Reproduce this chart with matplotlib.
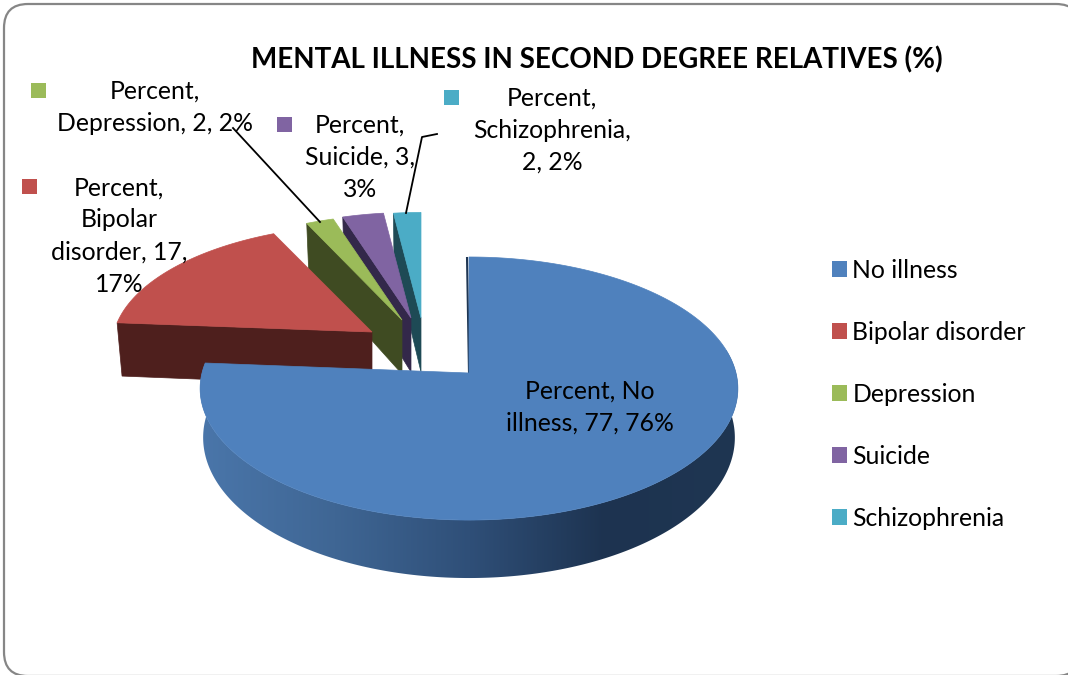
import matplotlib
matplotlib.use('Agg')
import matplotlib.pyplot as plt
from matplotlib.patches import FancyBboxPatch, Patch, Polygon, Rectangle
from matplotlib.colors import LinearSegmentedColormap
import numpy as np

plt.rcParams['font.family'] = ['Lato', 'DejaVu Sans']

title = 'MENTAL ILLNESS IN SECOND DEGREE RELATIVES (%)'
categories = ['No illness', 'Bipolar disorder', 'Depression', 'Suicide', 'Schizophrenia']
values = [77, 17, 2, 3, 2]
percents = [76, 17, 2, 3, 2]
label_texts = [
    'Percent, No\nillness, 77, 76%',
    'Percent,\nBipolar\ndisorder, 17,\n17%',
    'Percent,\nDepression, 2, 2%',
    'Percent,\nSuicide, 3,\n3%',
    'Percent,\nSchizophrenia,\n2, 2%',
]

# styles and layout, all in pixels of the figure
top_colors = ['#4f81bd', '#c0504d', '#9bbb59', '#8064a2', '#4bacc6']
wall_colors = ['#2f4f78', '#4e1f1d', '#3f4b22', '#33284a', '#1e4a55']
explode = [(0, 0), (-97, -41), (-67, -53), (-58, -55), (-48, -55)]
# rx, ry of the top face and rx, ry, drop of the bottom face
shapes = [(267, 129.7, 264, 138.5, 48), (258, 120, 253, 129, 54), (250, 118, 245, 127, 54),
          (248, 118, 243, 127, 54), (248, 118, 243, 127, 54)]
label_pos = [(590, 407), (119, 236), (155, 107), (360, 157), (552, 130)]
key_pos = [None, (22, 179), (31, 83), (277, 117), (444, 90)]
FS = 24.8 * 0.72
CX, CY = 469, 373
K = 0.118


def project(ang, cx, cy, rx, ry):
    u, v = np.sin(ang), np.cos(ang)
    s = 1 / (1 + K * v)
    return cx + rx * u * s, cy - ry * v * s


fig = plt.figure(figsize=(10.68, 6.75), dpi=100)
ax = fig.add_axes([0, 0, 1, 1])
ax.axis('off')

ax.add_patch(FancyBboxPatch((4, 4), 1076, 672, boxstyle='round,pad=0,rounding_size=24',
                            fc='white', ec='#868686', lw=1.6))

edges = np.radians(np.cumsum([0] + values) / sum(values) * 360)
shade = LinearSegmentedColormap.from_list('wall', ['#4a76aa', '#3f6694', '#2f4f78', '#1d3350', '#1f3652'])

# small slices first, the big one goes over them
for i in [4, 3, 2, 1, 0]:
    a0, a1 = edges[i], edges[i + 1]
    cx, cy = CX + explode[i][0], CY + explode[i][1]
    rx, ry, rx2, ry2, depth = shapes[i]
    angs = np.linspace(a0, a1, 300)
    tx, ty = project(angs, cx, cy, rx, ry)
    if i == 0:
        bx, by = project(angs, cx, cy + depth, rx2, ry2)
        wall = Polygon(list(zip(tx, ty)) + list(zip(bx[::-1], by[::-1])), fc='none', ec='none')
        ax.add_patch(wall)
        im = ax.imshow(np.linspace(0, 1, 256).reshape(1, -1), cmap=shade, aspect='auto',
                       extent=(200, 740, 600, 350), zorder=1)
        im.set_clip_path(wall)
        ax.plot([tx[0] - 2, cx], [ty[0], cy], color='#1f3652', lw=1.5, solid_capstyle='butt', zorder=2)
    else:
        bx, by = project(a0, cx, cy + depth, rx2, ry2)
        ax.add_patch(Polygon([(cx, cy), (tx[0], ty[0]), (bx, by), (cx, cy + depth)],
                             fc=wall_colors[i], ec=wall_colors[i], lw=0.5, zorder=1))
    ax.add_patch(Polygon(list(zip(tx, ty)) + [(cx, cy)], fc=top_colors[i], ec=top_colors[i],
                         lw=0.5, zorder=1 if i else 2))

ax.set_xlim(0, 1068)
ax.set_ylim(675, 0)

# leader lines
ax.plot([233, 320], [128, 222], color='black', lw=1.3, zorder=3)
ax.plot([437, 422, 406], [134, 137, 213], color='black', lw=1.3, zorder=3)

for i, txt in enumerate(label_texts):
    ax.text(label_pos[i][0], label_pos[i][1], txt, ha='center', va='center',
            fontsize=FS, color='black', linespacing=1.48, zorder=4)
    if key_pos[i] is not None:
        ax.add_patch(Rectangle(key_pos[i], 15, 15, fc=top_colors[i], ec='none', zorder=4))

ax.text(597, 60, title, ha='center', va='center', fontsize=27.7 * 0.72, fontweight='bold', color='black', zorder=4)

handles = [Patch(fc=c, ec='none') for c in top_colors]
ax.legend(handles, categories, loc='upper left', bbox_to_anchor=(832 / 1068, 1 - 259 / 675),
          frameon=False, fontsize=FS, handlelength=0.6, handleheight=0.6,
          handletextpad=0.22, labelspacing=1.57, borderpad=0, borderaxespad=0)

fig.savefig('out.png', dpi=100)
